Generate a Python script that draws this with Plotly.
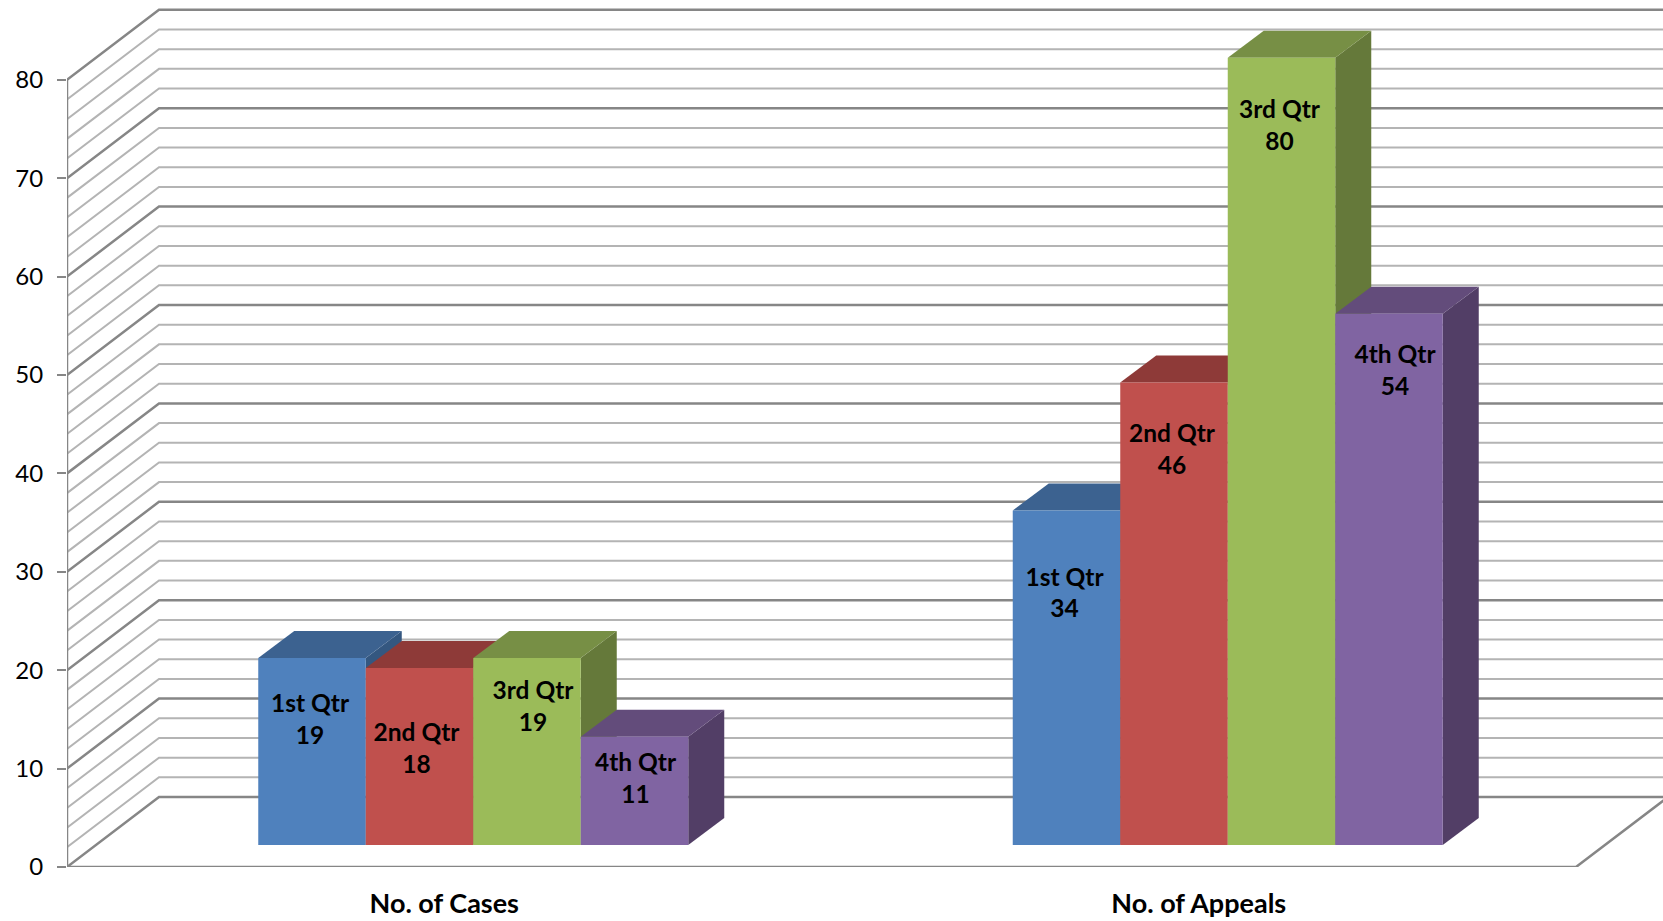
import plotly.graph_objects as go

# ---- data ----
categories = ["No. of Cases", "No. of Appeals"]
series_names = ["1st Qtr", "2nd Qtr", "3rd Qtr", "4th Qtr"]
# drawn bar heights
q1_values = [19, 34]
q2_values = [18, 47]
q3_values = [19, 80]
q4_values = [11, 54]
# values printed on the bars
q1_labels = [19, 34]
q2_labels = [18, 46]
q3_labels = [19, 80]
q4_labels = [11, 54]
y_ticks = [0, 10, 20, 30, 40, 50, 60, 70, 80]
grid_levels = list(range(0, 81, 2))

# ---- styles ----
front_colors = ["#4F81BD", "#C0504D", "#9BBB59", "#8064A2"]
top_colors = ["#3C6290", "#8E3A38", "#778F45", "#634C7B"]
side_colors = ["#345780", "#7B312F", "#65793A", "#523E66"]
GRID_MINOR = "#B4B4B4"
GRID_MAJOR = "#868686"
FONT = "Lato"

# ---- geometry (pixel sizes converted into axis units) ----
W, H = 1663, 921
M_L, M_B = 67, 54
PX_X = 754.5       # px per category
PX_Y = 9.84        # px per value unit
x_range = [-0.5, -0.5 + (W - M_L) / PX_X]
y_range = [0, (H - M_B) / PX_Y]
wall_dx, wall_dy = 92 / PX_X, 70 / PX_Y
bar_dx, bar_dy = 36 / PX_X, 27 / PX_Y
bar_w = 107.5 / PX_X
floor_y = 22 / PX_Y
group_shift = 29 / PX_X
x_end = 1.5

# manual data-label placement, px relative to the bar centre / bar top
label_shift = [[-2, -3, 6, 1], [-2, -2, -2, 6]]
label_drop = [[44, 63, 31, 24], [65, 49, 50, 39]]

all_values = [q1_values, q2_values, q3_values, q4_values]
all_labels = [q1_labels, q2_labels, q3_labels, q4_labels]

fig = go.Figure()

# gridlines: side wall + back wall
for levels, col, width in (
    ([v for v in grid_levels if v % 10], GRID_MINOR, 2),
    ([v for v in grid_levels if v % 10 == 0], GRID_MAJOR, 2.5),
):
    xs, ys = [], []
    for v in levels:
        xs += [-0.5, -0.5 + wall_dx, x_end + wall_dx, None]
        ys += [v, v + wall_dy, v + wall_dy, None]
    fig.add_trace(go.Scatter(x=xs, y=ys, mode="lines", line=dict(color=col, width=width),
                             hoverinfo="skip", showlegend=False))

# axis lines and floor edge
fig.add_trace(go.Scatter(
    x=[-0.5, -0.5, None, -0.5, x_end, x_end + wall_dx],
    y=[y_ticks[-1], 0, None, 0, 0, wall_dy],
    mode="lines", line=dict(color=GRID_MAJOR, width=2.5),
    cliponaxis=False, hoverinfo="skip", showlegend=False))

# side and top faces
def bar_left(cat, s):
    return cat + group_shift + (s - 2) * bar_w

for s, vals in enumerate(all_values):
    for c, v in enumerate(vals):
        x0 = bar_left(c, s)
        x1 = x0 + bar_w
        y1 = floor_y + v
        fig.add_trace(go.Scatter(
            x=[x1, x1 + bar_dx, x1 + bar_dx, x1, x1],
            y=[floor_y, floor_y + bar_dy, y1 + bar_dy, y1, floor_y],
            mode="lines", fill="toself", fillcolor=side_colors[s], line=dict(width=0),
            hoverinfo="skip", showlegend=False))
        fig.add_trace(go.Scatter(
            x=[x0, x0 + bar_dx, x1 + bar_dx, x1, x0],
            y=[y1, y1 + bar_dy, y1 + bar_dy, y1, y1],
            mode="lines", fill="toself", fillcolor=top_colors[s], line=dict(width=0),
            hoverinfo="skip", showlegend=False))

# front faces, on an overlaid pair of axes so they sit above every side face
for s, (name, vals) in enumerate(zip(series_names, all_values)):
    fig.add_trace(go.Bar(
        x=[bar_left(c, s) + bar_w / 2 for c in range(len(vals))],
        y=vals, base=[floor_y] * len(vals), width=bar_w, name=name,
        marker=dict(color=front_colors[s], line=dict(width=0)),
        xaxis="x2", yaxis="y2", showlegend=False))

# data labels
lx, ly, lt = [], [], []
for s, name in enumerate(series_names):
    for c, v in enumerate(all_values[s]):
        lx.append(bar_left(c, s) + bar_w / 2 + label_shift[c][s] / PX_X)
        ly.append(floor_y + v - (label_drop[c][s] + 20) / PX_Y)
        lt.append(f"<b>{name}<br>{all_labels[s][c]}</b>")
fig.add_trace(go.Scatter(x=lx, y=ly, text=lt, mode="text", textposition="middle center",
                         textfont=dict(family=FONT, size=24.5, color="#000000"),
                         xaxis="x2", yaxis="y2", hoverinfo="skip", showlegend=False))

fig.update_layout(
    width=W, height=H, margin=dict(l=M_L, r=0, t=0, b=M_B),
    paper_bgcolor="white", plot_bgcolor="white", barmode="overlay", showlegend=False,
    xaxis=dict(range=x_range, tickmode="array", tickvals=[0, 1],
               ticktext=[f"<b>{c}</b>" for c in categories], ticks="", showgrid=False,
               zeroline=False, showline=False, ticklabelstandoff=18,
               tickfont=dict(family=FONT, size=27, color="#000000")),
    yaxis=dict(range=y_range, tickmode="array", tickvals=y_ticks, ticks="outside", ticklen=9,
               tickwidth=2, tickcolor=GRID_MAJOR, showgrid=False, zeroline=False, showline=False,
               ticklabelstandoff=9, tickfont=dict(family=FONT, size=24, color="#000000")),
    xaxis2=dict(range=x_range, overlaying="x", visible=False),
    yaxis2=dict(range=y_range, overlaying="y", visible=False),
)

fig.write_html("out.html", config=dict(displayModeBar=False),
               post_script="document.body.style.margin='0';document.body.style.overflow='hidden';")
